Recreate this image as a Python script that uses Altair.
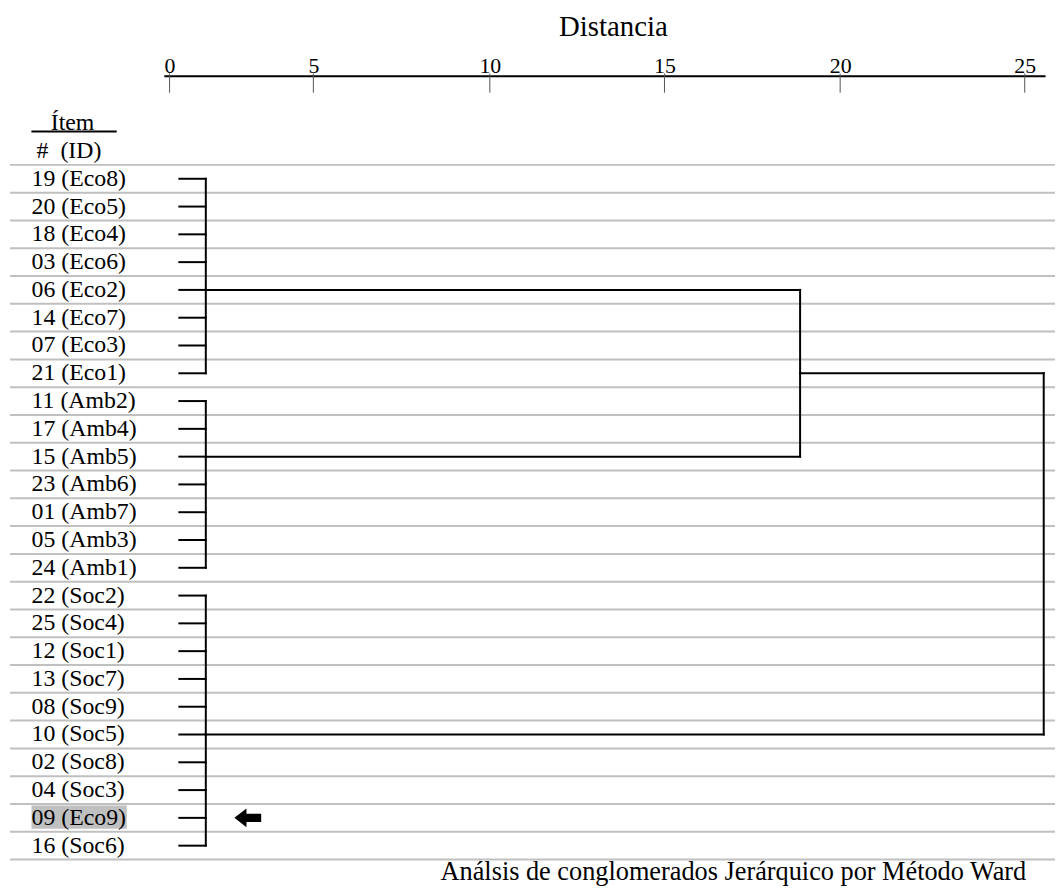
import altair as alt
import pandas as pd

# ---------------- data ----------------
item_labels = ["19 (Eco8)", "20 (Eco5)", "18 (Eco4)", "03 (Eco6)", "06 (Eco2)", "14 (Eco7)",
               "07 (Eco3)", "21 (Eco1)",
               "11 (Amb2)", "17 (Amb4)", "15 (Amb5)", "23 (Amb6)", "01 (Amb7)", "05 (Amb3)",
               "24 (Amb1)",
               "22 (Soc2)", "25 (Soc4)", "12 (Soc1)", "13 (Soc7)", "08 (Soc9)", "10 (Soc5)",
               "02 (Soc8)", "04 (Soc3)", "09 (Eco9)", "16 (Soc6)"]
cluster_names = ["Eco", "Amb", "Soc"]
cluster_sizes = [8, 7, 10]
cluster_rep_item = ["06 (Eco2)", "15 (Amb5)", "10 (Soc5)"]
leaf_start = 0.34                      # leaf stubs start (rescaled distance)
cluster_join = [1.26, 1.26, 1.26]      # first-level joins
merge_dist = [18.86, 25.56]            # Eco+Amb, then (Eco+Amb)+Soc
merge_out_item = "21 (Eco1)"           # row where the Eco+Amb branch continues
highlight_item = "09 (Eco9)"
tick_values = [0, 5, 10, 15, 20, 25]
caption_text = "Análsis de conglomerados Jerárquico por Método Ward"

# ---------------- tables built from the arrays ----------------
row_of = {lab: i for i, lab in enumerate(item_labels)}
labels_df = pd.DataFrame({"label": item_labels, "row": list(range(len(item_labels)))})

segs = []
start = 0
for c, size in enumerate(cluster_sizes):
    for r in range(start, start + size):
        segs.append((leaf_start, r, cluster_join[c], r))
    segs.append((cluster_join[c], start, cluster_join[c], start + size - 1))
    start += size
rep = [row_of[x] for x in cluster_rep_item]
out_row = row_of[merge_out_item]
# first merge: Eco + Amb
segs.append((cluster_join[0], rep[0], merge_dist[0], rep[0]))
segs.append((cluster_join[1], rep[1], merge_dist[0], rep[1]))
segs.append((merge_dist[0], rep[0], merge_dist[0], rep[1]))
# final merge
segs.append((merge_dist[0], out_row, merge_dist[1], out_row))
segs.append((cluster_join[2], rep[2], merge_dist[1], rep[2]))
segs.append((merge_dist[1], out_row, merge_dist[1], rep[2]))
seg_df = pd.DataFrame(segs, columns=["x", "y", "x2", "y2"])

n = len(item_labels)
grid_df = pd.DataFrame({"g": [i - 0.5 for i in range(n + 1)]})
hl_row = row_of[highlight_item]
hl_df = pd.DataFrame({"lo": [hl_row - 0.443], "hi": [hl_row + 0.393]})
tick_df = pd.DataFrame({"t": tick_values})
arrow_df = pd.DataFrame({"x": [2.72], "row": [hl_row]})

# ---------------- scales / axis ----------------
W, H = 888, 790
FONT = "Liberation Serif"
xscale = alt.Scale(domain=[-0.2, 0, 5, 10, 15, 20, 25, 25.6],
                   range=[0, 5.8, 150.7, 328.5, 504.5, 681.5, 867.5, 888],
                   nice=False, zero=False)
yscale = alt.Scale(domain=[-3.704, 24.511], reverse=True, nice=False, zero=False)
xaxis = alt.Axis(orient="top", values=tick_values, title="Distancia",
                 titleFont=FONT, titleFontSize=29, titleFontWeight="normal", titleColor="black",
                 titleX=452.5, titleY=-40.3, titleBaseline="alphabetic", titleAlign="center",
                 labelFont=FONT, labelFontSize=22, labelColor="black", labelPadding=3,
                 labelBaseline="alphabetic", labelFlush=False, labelOverlap=False,
                 ticks=False, tickSize=0, grid=False,
                 domain=True, domainColor="black", domainWidth=2)


def X(field):
    return alt.X(field, type="quantitative", scale=xscale, axis=xaxis)


def Y(field):
    return alt.Y(field, type="quantitative", scale=yscale, axis=None)


grid = alt.Chart(grid_df).mark_rule(color="#c0c0c0", strokeWidth=2).encode(
    y=Y("g"), x=alt.value(-155), x2=alt.value(898))

highlight = alt.Chart(hl_df).mark_rect(color="#c0c0c0").encode(
    x=alt.value(-133.3), x2=alt.value(-37.3), y=Y("lo"), y2="hi")

labels = alt.Chart(labels_df).mark_text(font=FONT, fontSize=24, align="left",
                                        baseline="middle", color="black").encode(
    x=alt.value(-133.3), y=Y("row"), text="label:N")

head1 = alt.Chart(pd.DataFrame({"t": ["Ítem"], "row": [-2.0]})).mark_text(
    font=FONT, fontSize=24, align="center", baseline="middle", color="black").encode(
    x=alt.value(-92), y=Y("row"), text="t:N")
head2 = alt.Chart(pd.DataFrame({"t": ["#\u00a0\u00a0(ID)"], "row": [-1.0]})).mark_text(
    font=FONT, fontSize=24, align="left", baseline="middle", color="black").encode(
    x=alt.value(-128.2), y=Y("row"), text="t:N")
underline = alt.Chart(pd.DataFrame({"row": [-1.7]})).mark_rule(
    color="black", strokeWidth=2).encode(
    x=alt.value(-133.4), x2=alt.value(-47.5), y=Y("row"))

tree = alt.Chart(seg_df).mark_rule(color="black", strokeWidth=2, strokeCap="square").encode(
    x=X("x"), x2="x2", y=Y("y"), y2="y2")

ticks = alt.Chart(tick_df).mark_rule(color="#555555", strokeWidth=1).encode(
    x=X("t"), y=alt.value(-2.3), y2=alt.value(17))

arrow_path = "M -1 0 L -0.1 -0.7 L -0.1 -0.3 L 1 -0.3 L 1 0.3 L -0.1 0.3 L -0.1 0.7 Z"
arrow = alt.Chart(arrow_df).mark_point(shape=arrow_path, filled=True, color="black",
                                       opacity=1, size=729, strokeWidth=0).encode(
    x=X("x"), y=Y("row"))

caption = alt.Chart(pd.DataFrame({"t": [caption_text]})).mark_text(
    font=FONT, fontSize=26.5, align="right", baseline="alphabetic", color="black").encode(
    x=alt.value(869), y=alt.value(810), text="t:N")

chart = alt.layer(grid, highlight, labels, head1, head2, underline, tree, ticks, arrow,
                  caption).properties(
    width=W, height=H,
    autosize=alt.AutoSizeParams(type="none"),
    padding={"left": 157, "top": 65, "right": 10, "bottom": 26},
).configure(background="white").configure_view(stroke=None, strokeWidth=0)

chart.save("out.html", embed_options={"renderer": "svg", "actions": False})
